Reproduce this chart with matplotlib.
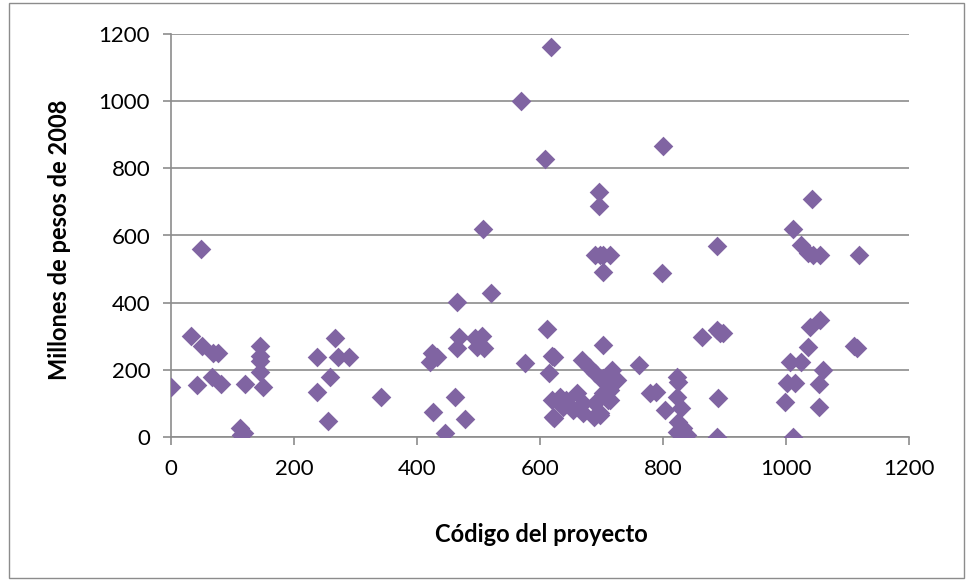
import numpy as np
import matplotlib
matplotlib.use('Agg')
import matplotlib.pyplot as plt
from matplotlib.patches import Rectangle

# project code vs. cost (millions of 2008 pesos)
codigo = [0, 32, 48, 50, 42, 66, 69, 77, 81, 112, 114, 118, 120, 144, 145, 145, 144, 149,
          237, 237, 256, 259, 267, 272, 290, 341,
          421, 424, 432, 426, 446, 462, 465, 468, 465, 478, 494, 497, 505, 509, 508, 520,
          569, 576, 608, 611, 614, 618, 619, 621, 623, 632,
          619, 632, 643, 638, 660, 654, 670, 670, 687, 698, 689, 703, 711, 622, 668, 679, 689, 700,
          714, 719, 717, 725, 718, 708, 714, 708, 714, 698, 702, 703,
          689, 696, 696, 697, 703, 714, 702,
          761, 779, 789, 799, 800, 803, 822, 825, 822, 830, 825, 833, 839, 822, 833,
          863, 887, 887, 893, 897, 890, 887,
          998, 1001, 1007, 1011, 1011, 1015, 1025, 1025, 1036, 1036, 1039, 1043, 1044, 1053, 1053,
          1055, 1056, 1060, 1110, 1115, 1118]
millones = [150, 300, 560, 270, 155, 180, 250, 250, 158, 26, 5, 12, 158, 240, 270, 225, 195, 150,
            237, 135, 49, 178, 294, 239, 237, 118,
            224, 249, 239, 75, 11, 120, 403, 299, 264, 53, 294, 269, 301, 264, 620, 428,
            1000, 219, 828, 321, 190, 1160, 241, 61, 239, 115,
            110, 120, 110, 90, 130, 80, 100, 70, 60, 65, 100, 130, 110, 56, 229, 209, 190, 170,
            140, 160, 200, 170, 160, 180, 160, 120, 110, 70, 274, 175,
            542, 731, 689, 542, 542, 542, 492,
            214, 130, 135, 487, 867, 80, 180, 165, 120, 85, 46, 26, 6, 16, 0,
            297, 570, 320, 310, 310, 115, 1,
            105, 160, 224, 618, 0, 160, 572, 224, 267, 547, 327, 708, 542, 158, 88,
            348, 542, 200, 270, 265, 542]

fig = plt.figure(figsize=(9.67, 5.8), dpi=100)
plt.rcParams['font.family'] = ['Lato', 'DejaVu Sans']
ax = fig.add_axes([171 / 967, 1 - 437 / 580, 738 / 967, 403 / 580])

ax.scatter(codigo, millones, marker='D', s=100, color='#8064A2', zorder=3, linewidths=0)

ax.set_xlim(0, 1200)
ax.set_ylim(0, 1200)
ax.set_xticks(np.arange(0, 1201, 200))
ax.set_yticks(np.arange(0, 1201, 200))
ax.yaxis.grid(True, color='#8c8c8c', linewidth=1.2)
ax.set_axisbelow(True)
for s in ['top', 'right']:
    ax.spines[s].set_visible(False)
for s in ['left', 'bottom']:
    ax.spines[s].set_color('#8c8c8c')
    ax.spines[s].set_linewidth(1.2)
ax.tick_params(axis='both', colors='#8c8c8c', labelcolor='black', labelsize=16,
               length=6, width=1.2)
ax.tick_params(axis='x', pad=10)
ax.tick_params(axis='y', pad=9)

ax.set_xlabel('Código del proyecto', fontsize=17, fontweight='bold')
ax.set_ylabel('Millones de pesos de 2008', fontsize=17, fontweight='bold')
ax.xaxis.set_label_coords((541 - 171) / 738, (437 - 535) / 403)
ax.yaxis.set_label_coords((60 - 171) / 738, (437 - 240) / 403)
ax.xaxis.label.set_va('center')
ax.yaxis.label.set_va('center')

fig.patches.append(Rectangle((9 / 967, 2 / 580), 955 / 967, 575 / 580, transform=fig.transFigure,
                             fill=False, edgecolor='#8c8c8c', linewidth=1))

fig.savefig('out.png', dpi=100)
